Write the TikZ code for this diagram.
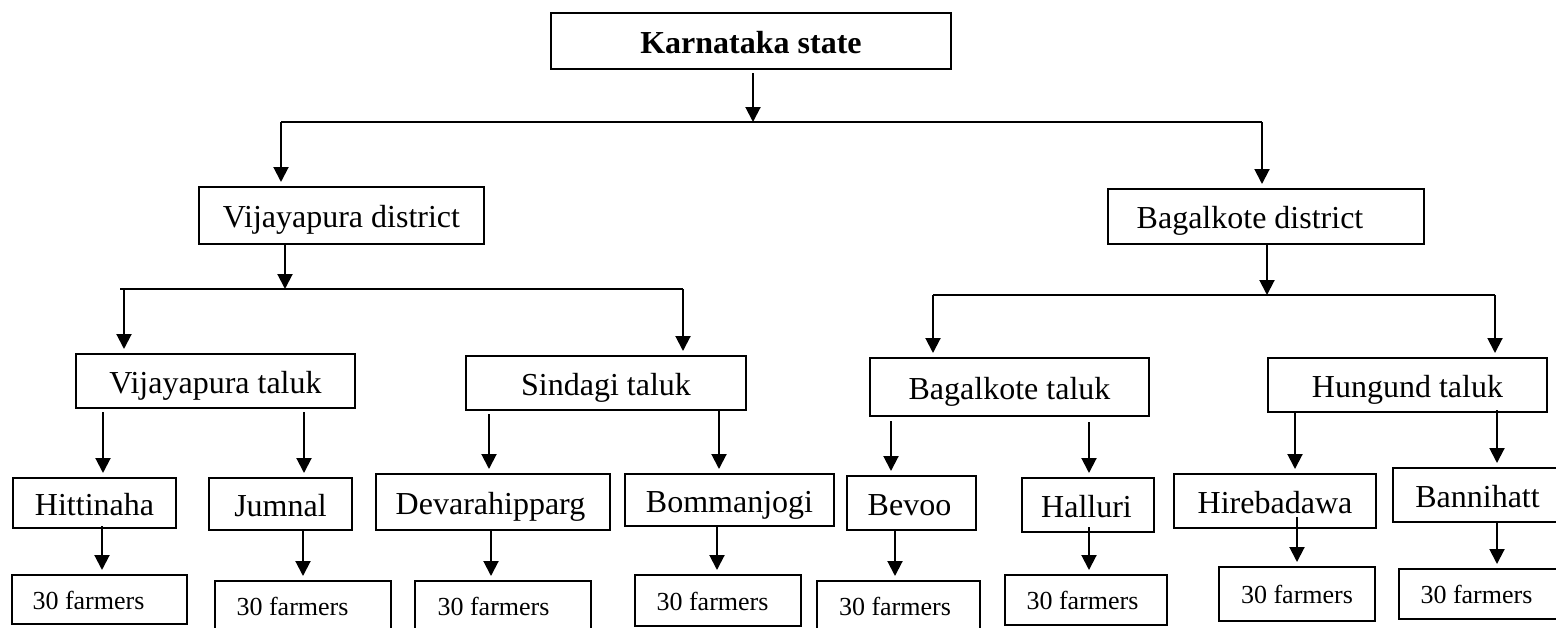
\documentclass[tikz,border=0pt]{standalone}
\usepackage{fontspec}
\setmainfont{Liberation Serif}
\usetikzlibrary{arrows.meta}
\newcommand{\shifttext}[2]{\makebox[0pt]{\kern#1pt\relax#2}}
\begin{document}
\begin{tikzpicture}[x=1pt,y=-1pt,
  box/.style={draw, line width=2pt, inner sep=0pt, text height=24pt, text depth=0pt, font=\fontsize{32}{38}\selectfont},
  fbox/.style={box, text height=19.5pt, font=\fontsize{26}{31}\selectfont},
  conn/.style={line width=2pt},
  arrl/.style={conn, -{Triangle[length=15pt,width=15pt]}},
  arr/.style={arrl, shorten >=4pt},
]
\useasboundingbox (0,0) rectangle (1556,627);

% level 0
\node[box, minimum width=400pt, minimum height=56pt] (ks) at (751,41) {\textbf{Karnataka state}};
% districts
\node[box, minimum width=285pt, minimum height=57pt] (vd) at (341.5,215.5) {Vijayapura district};
\node[box, minimum width=316pt, minimum height=55pt] (bd) at (1266,216.5) {\shifttext{-32}{Bagalkote district}};
% taluks
\node[box, minimum width=279pt, minimum height=54pt] (vt) at (215.5,381) {Vijayapura taluk};
\node[box, minimum width=280pt, minimum height=54pt] (st) at (606,383) {Sindagi taluk};
\node[box, minimum width=279pt, minimum height=58pt] (bt) at (1009.5,387) {Bagalkote taluk};
\node[box, minimum width=279pt, minimum height=54pt] (ht) at (1407.5,385) {Hungund taluk};
% villages
\node[box, minimum width=163pt, minimum height=50pt] (hi) at (94.5,503) {Hittinaha};
\node[box, minimum width=143pt, minimum height=52pt] (ju) at (280.5,504) {Jumnal};
\node[box, minimum width=234pt, minimum height=56pt] (de) at (493,502) {\shifttext{-5}{Devarahipparg}};
\node[box, minimum width=209pt, minimum height=52pt] (bo) at (729.5,500) {Bommanjogi};
\node[box, minimum width=129pt, minimum height=54pt] (be) at (911.5,503) {\shifttext{-4}{Bevoo}};
\node[box, minimum width=132pt, minimum height=54pt] (ha) at (1088,505) {\shifttext{-3}{Halluri}};
\node[box, minimum width=202pt, minimum height=54pt] (hr) at (1275,501) {Hirebadawa};
\node[box, minimum width=169pt, minimum height=54pt] (bn) at (1477.5,495) {Bannihatt};
% farmers
\node[fbox, minimum width=175pt, minimum height=49pt] (f1) at (99.5,599.5) {\shifttext{-22}{30 farmers}};
\node[fbox, minimum width=176pt, minimum height=50pt] (f2) at (303,606) {\shifttext{-21}{30 farmers}};
\node[fbox, minimum width=176pt, minimum height=50pt] (f3) at (503,606) {\shifttext{-19}{30 farmers}};
\node[fbox, minimum width=166pt, minimum height=51pt] (f4) at (718,600.5) {\shifttext{-11}{30 farmers}};
\node[fbox, minimum width=163pt, minimum height=50pt] (f5) at (898.5,606) {\shifttext{-7}{30 farmers}};
\node[fbox, minimum width=162pt, minimum height=50pt] (f6) at (1086,600) {\shifttext{-7}{30 farmers}};
\node[fbox, minimum width=156pt, minimum height=54pt] (f7) at (1297,594) {30 farmers};
\node[fbox, minimum width=161pt, minimum height=50pt] (f8) at (1479.5,594) {\shifttext{-6}{30 farmers}};

% junctions
\coordinate (j0) at (753,122);
\coordinate (tl) at (281,122);
\coordinate (tr) at (1262,122);
\coordinate (vj) at (285,289);
\coordinate (vl) at (124,289);
\coordinate (vr) at (683,289);
\coordinate (bj) at (1267,295);
\coordinate (bl) at (933,295);
\coordinate (br) at (1495,295);

% state to districts
\draw[arrl, shorten <=3pt] (ks.south -| j0) -- (j0);
\draw[conn] (tl) -- (tr);
\draw[arr] (tl) -- (vd.north -| tl);
\draw[arr] (tr) -- (bd.north -| tr);
% districts to taluks
\draw[arrl] (vd.south -| vj) -- (vj);
\draw[conn] ([xshift=-4pt]vl) -- (vr);
\draw[arr] (vl) -- (vt.north -| vl);
\draw[arr] (vr) -- (st.north -| vr);
\draw[arrl] (bd.south -| bj) -- (bj);
\draw[conn] (bl) -- (br);
\draw[arr] (bl) -- (bt.north -| bl);
\draw[arr] (br) -- (ht.north -| br);
% taluks to villages
\draw[arr, shorten <=3pt] (vt.south -| 103,0) -- (hi.north -| 103,0);
\draw[arr, shorten <=3pt] (vt.south -| 304,0) -- (ju.north -| 304,0);
\draw[arr, shorten <=3pt] (st.south -| 489,0) -- (de.north -| 489,0);
\draw[arr] (st.south -| 719,0) -- (bo.north -| 719,0);
\draw[arr, shorten <=4pt] (bt.south -| 891,0) -- (be.north -| 891,0);
\draw[arr, shorten <=5pt] (bt.south -| 1089,0) -- (ha.north -| 1089,0);
\draw[arr] (ht.south -| 1295,0) -- (hr.north -| 1295,0);
\draw[arr, shorten <=-3pt] (ht.south -| 1497,0) -- (bn.north -| 1497,0);
% villages to farmers
\draw[arr, shorten <=-3pt] (hi.south -| 102,0) -- (f1.north -| 102,0);
\draw[arr] (ju.south -| 303,0) -- (f2.north -| 303,0);
\draw[arr] (de.south -| 491,0) -- (f3.north -| 491,0);
\draw[arr, shorten <=-2pt] (bo.south -| 717,0) -- (f4.north -| 717,0);
\draw[arr, shorten <=-2pt] (be.south -| 895,0) -- (f5.north -| 895,0);
\draw[arr, shorten <=-6pt] (ha.south -| 1089,0) -- (f6.north -| 1089,0);
\draw[arr, shorten <=-12pt] (hr.south -| 1297,0) -- (f7.north -| 1297,0);
\draw[arr] (bn.south -| 1497,0) -- (f8.north -| 1497,0);
\end{tikzpicture}
\end{document}
